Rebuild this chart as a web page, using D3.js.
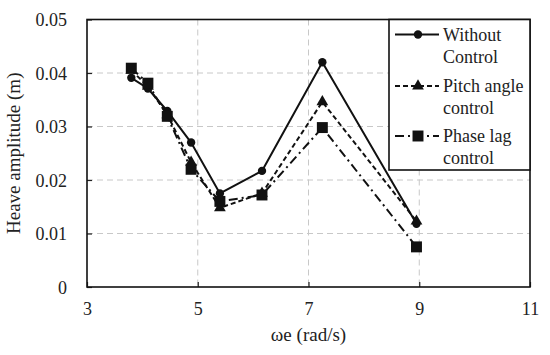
<!DOCTYPE html>
<html><head><meta charset="utf-8">
<script src="https://cdn.jsdelivr.net/npm/d3@7"></script>
<style>html,body{margin:0;padding:0;background:#fff;}</style>
</head><body>
<svg id="chart" width="550" height="355"></svg>
<script>
const omega = [3.8, 4.1, 4.45, 4.88, 5.4, 6.16, 7.25, 8.95];
const withoutControl = [0.0391, 0.0371, 0.0329, 0.0270, 0.0175, 0.0217, 0.0420, 0.0118];
const pitchControl = [0.0405, 0.0375, 0.0322, 0.0233, 0.0148, 0.0175, 0.0346, 0.0123];
const phaseLagControl = [0.0409, 0.0381, 0.0319, 0.0220, 0.0160, 0.0172, 0.0298, 0.0075];
const xTicks = [3, 5, 7, 9, 11];
const yTicks = [0, 0.01, 0.02, 0.03, 0.04, 0.05];
const seriesNames = [["Without", "Control"], ["Pitch angle", "control"], ["Phase lag", "control"]];

const font = "'Liberation Serif', 'Times New Roman', serif";
const svg = d3.select("#chart");
const L = 87, R = 530, T = 19.5, B = 287;
const x = d3.scaleLinear().domain([3, 11]).range([L, R]);
const y = d3.scaleLinear().domain([0, 0.05]).range([B, T]);

// gridlines
svg.append("g").selectAll("line").data(yTicks.filter(d => d > 0 && d < 0.05)).join("line")
  .attr("x1", L).attr("x2", R).attr("y1", d => y(d)).attr("y2", d => y(d))
  .attr("stroke", "#c8c8c8").attr("stroke-width", 1).attr("stroke-dasharray", "6,4");
svg.append("g").selectAll("line").data(xTicks.filter(d => d > 3 && d < 11)).join("line")
  .attr("y1", T).attr("y2", B).attr("x1", d => x(d)).attr("x2", d => x(d))
  .attr("stroke", "#c8c8c8").attr("stroke-width", 1).attr("stroke-dasharray", "6,4");

// axes
const xAxis = svg.append("g").attr("transform", `translate(0,${B})`)
  .call(d3.axisBottom(x).tickValues(xTicks).tickFormat(d3.format("d")).tickSizeInner(-5).tickSizeOuter(0).tickPadding(15));
const yAxis = svg.append("g").attr("transform", `translate(${L},0)`)
  .call(d3.axisLeft(y).tickValues(yTicks).tickFormat(d => d === 0 ? "0" : d3.format(".2f")(d)).tickSizeInner(-5).tickSizeOuter(0).tickPadding(20));
[xAxis, yAxis].forEach(a => {
  a.select(".domain").remove();
  a.selectAll("line").attr("stroke", "#222").attr("stroke-width", 1.2);
  a.selectAll("text").attr("font-family", font).attr("font-size", 18).attr("fill", "#222");
});
yAxis.selectAll("text").attr("dy", "0.35em");

// frame
svg.append("rect").attr("x", L).attr("y", T).attr("width", R - L).attr("height", B - T)
  .attr("fill", "none").attr("stroke", "#111").attr("stroke-width", 1.6);

const styles = [
  {data: withoutControl, dash: null, marker: "circle"},
  {data: pitchControl, dash: "5,3", marker: "triangle"},
  {data: phaseLagControl, dash: "9,4,2,4", marker: "square"}
];
const symbolMap = {circle: d3.symbol().type(d3.symbolCircle).size(55),
  triangle: d3.symbol().type(d3.symbolTriangle).size(60),
  square: d3.symbol().type(d3.symbolSquare).size(120)};

const line = d3.line().x(d => x(d[0])).y(d => y(d[1]));
styles.forEach(s => {
  const pts = omega.map((o, i) => [o, s.data[i]]);
  svg.append("path").attr("d", line(pts)).attr("fill", "none").attr("stroke", "#111")
    .attr("stroke-width", 2).attr("stroke-dasharray", s.dash);
  svg.append("g").selectAll("path").data(pts).join("path")
    .attr("transform", d => `translate(${x(d[0])},${y(d[1])})`)
    .attr("d", symbolMap[s.marker]()).attr("fill", "#111");
});

// legend
const lg = svg.append("g");
lg.append("rect").attr("x", 389).attr("y", T).attr("width", R - 389).attr("height", 170 - T)
  .attr("fill", "#fff").attr("stroke", "#111").attr("stroke-width", 1.6);
const rowY = [34.5, 86, 136];
styles.forEach((s, i) => {
  lg.append("line").attr("x1", 395).attr("x2", 439).attr("y1", rowY[i]).attr("y2", rowY[i])
    .attr("stroke", "#111").attr("stroke-width", 2).attr("stroke-dasharray", s.dash);
  lg.append("path").attr("transform", `translate(418,${rowY[i]})`).attr("d", symbolMap[s.marker]()).attr("fill", "#111");
  seriesNames[i].forEach((t, j) => {
    lg.append("text").attr("x", 443).attr("y", rowY[i] + 6 + j * 22).text(t)
      .attr("font-family", font).attr("font-size", 18).attr("fill", "#222");
  });
});

// axis titles
svg.append("text").attr("x", (L + R) / 2).attr("y", 341).attr("text-anchor", "middle")
  .attr("font-family", font).attr("font-size", 19).attr("fill", "#222").text("ωe (rad/s)");
svg.append("text").attr("transform", `translate(20,${(T + B) / 2}) rotate(-90)`).attr("text-anchor", "middle")
  .attr("font-family", font).attr("font-size", 19).attr("fill", "#222").text("Heave amplitude (m)");
</script>
</body></html>
